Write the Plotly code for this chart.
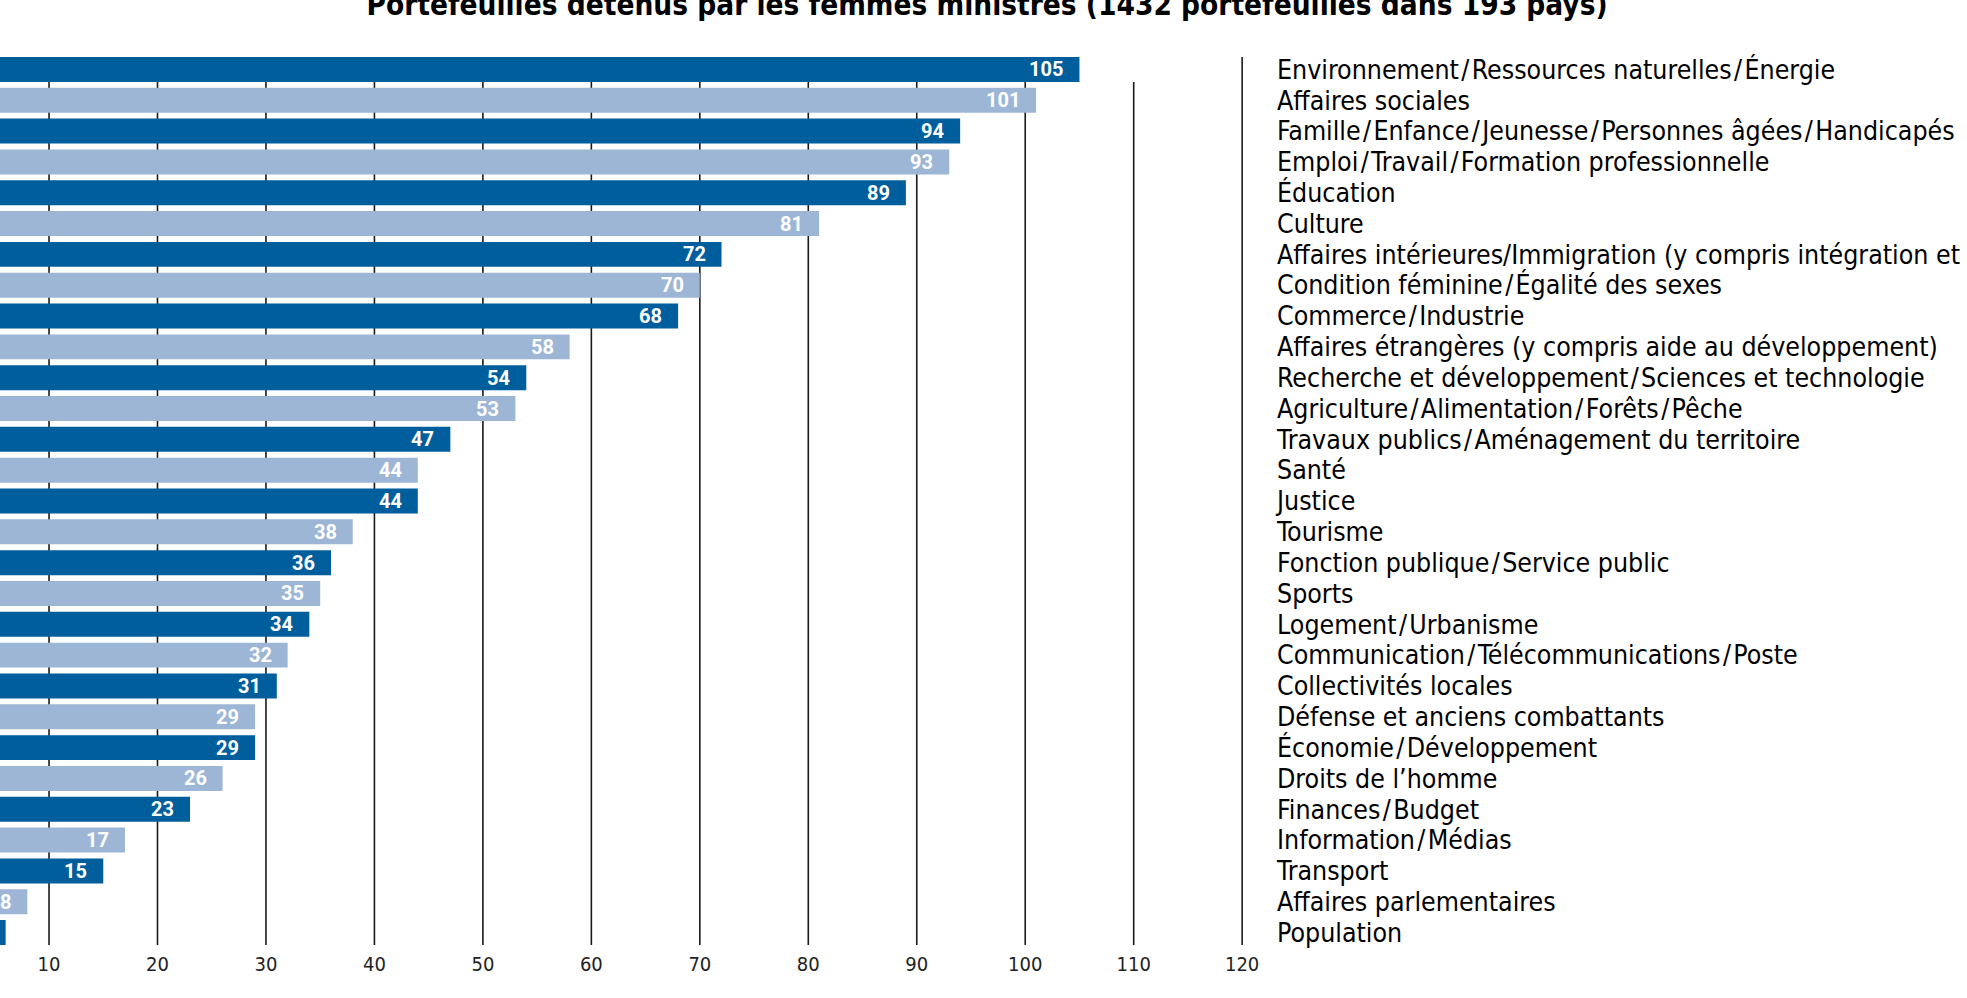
import plotly.graph_objects as go

title_text = "Portefeuilles détenus par les femmes ministres (1432 portefeuilles dans 193 pays)"

S = "\u200a/\u200a"
categories = [
    "Environnement" + S + "Ressources naturelles" + S + "Énergie",
    "Affaires sociales",
    "Famille" + S + "Enfance" + S + "Jeunesse" + S + "Personnes âgées" + S + "Handicapés",
    "Emploi" + S + "Travail" + S + "Formation professionnelle",
    "Éducation",
    "Culture",
    "Affaires intérieures/Immigration (y compris intégration et réfugiés)",
    "Condition féminine" + S + "Égalité des sexes",
    "Commerce" + S + "Industrie",
    "Affaires étrangères (y compris aide au développement)",
    "Recherche et développement" + S + "Sciences et technologie",
    "Agriculture" + S + "Alimentation" + S + "Forêts" + S + "Pêche",
    "Travaux publics" + S + "Aménagement du territoire",
    "Santé",
    "Justice",
    "Tourisme",
    "Fonction publique" + S + "Service public",
    "Sports",
    "Logement" + S + "Urbanisme",
    "Communication" + S + "Télécommunications" + S + "Poste",
    "Collectivités locales",
    "Défense et anciens combattants",
    "Économie" + S + "Développement",
    "Droits de l’homme",
    "Finances" + S + "Budget",
    "Information" + S + "Médias",
    "Transport",
    "Affaires parlementaires",
    "Population",
]

values = [105, 101, 94, 93, 89, 81, 72, 70, 68, 58, 54, 53, 47, 44, 44,
          38, 36, 35, 34, 32, 31, 29, 29, 26, 23, 17, 15, 8, 6]

x_ticks = [10, 20, 30, 40, 50, 60, 70, 80, 90, 100, 110, 120]

DARK = "#005E9C"
LIGHT = "#9DB6D6"
LINE = "#1a1a1a"

n = len(categories)
pos = list(range(n))
colors = [DARK if i % 2 == 0 else LIGHT for i in pos]
BW = 0.81

fig = go.Figure()
fig.add_trace(go.Bar(
    x=values, y=pos, orientation="h", width=BW,
    marker=dict(color=colors, line=dict(width=0)),
    hoverinfo="skip", showlegend=False,
))

annotations = []
for i, v in zip(pos, values):
    annotations.append(dict(
        x=v, y=i, xref="x", yref="y", text=str(v), showarrow=False,
        xanchor="right", yanchor="middle", xshift=-14,
        font=dict(family="Roboto", size=20, color="white", weight="bold"),
    ))

shapes = []
for t in x_ticks:
    y0 = -BW / 2 if t == x_ticks[-1] else BW / 2
    shapes.append(dict(
        type="line", xref="x", yref="y", x0=t, x1=t,
        y0=y0, y1=(n - 1) + BW / 2,
        line=dict(color=LINE, width=1.6), layer="below",
    ))

fig.update_layout(
    width=1967, height=998,
    margin=dict(l=0, r=714, t=54, b=50, pad=0),
    paper_bgcolor="white", plot_bgcolor="white",
    title=dict(
        text="<b>" + title_text + "</b>",
        xref="container", yref="container", x=0.5018, y=0.995,
        xanchor="center", yanchor="middle",
        font=dict(family="DejaVu Sans Condensed", size=29.5, color="black"),
    ),
    xaxis=dict(
        range=[5.48, 121], tickvals=x_ticks, ticktext=[str(t) for t in x_ticks],
        showgrid=False, zeroline=False, showline=False, ticks="",
        tickfont=dict(family="DejaVu Sans Condensed", size=20, color="#222"),
        ticklabelstandoff=2, automargin=False,
    ),
    yaxis=dict(
        range=[n - 0.5, -0.5], tickvals=pos, ticktext=categories, side="right",
        showgrid=False, zeroline=False, showline=False, ticks="",
        tickfont=dict(family="DejaVu Sans Condensed", size=26.5, color="black"),
        ticklabelstandoff=23, automargin=False,
    ),
    annotations=annotations, shapes=shapes,
)

fig.write_html(
    "out.html",
    config={"displayModeBar": False, "staticPlot": True},
    post_script="document.body.style.margin='0';document.body.style.overflow='hidden';",
)
